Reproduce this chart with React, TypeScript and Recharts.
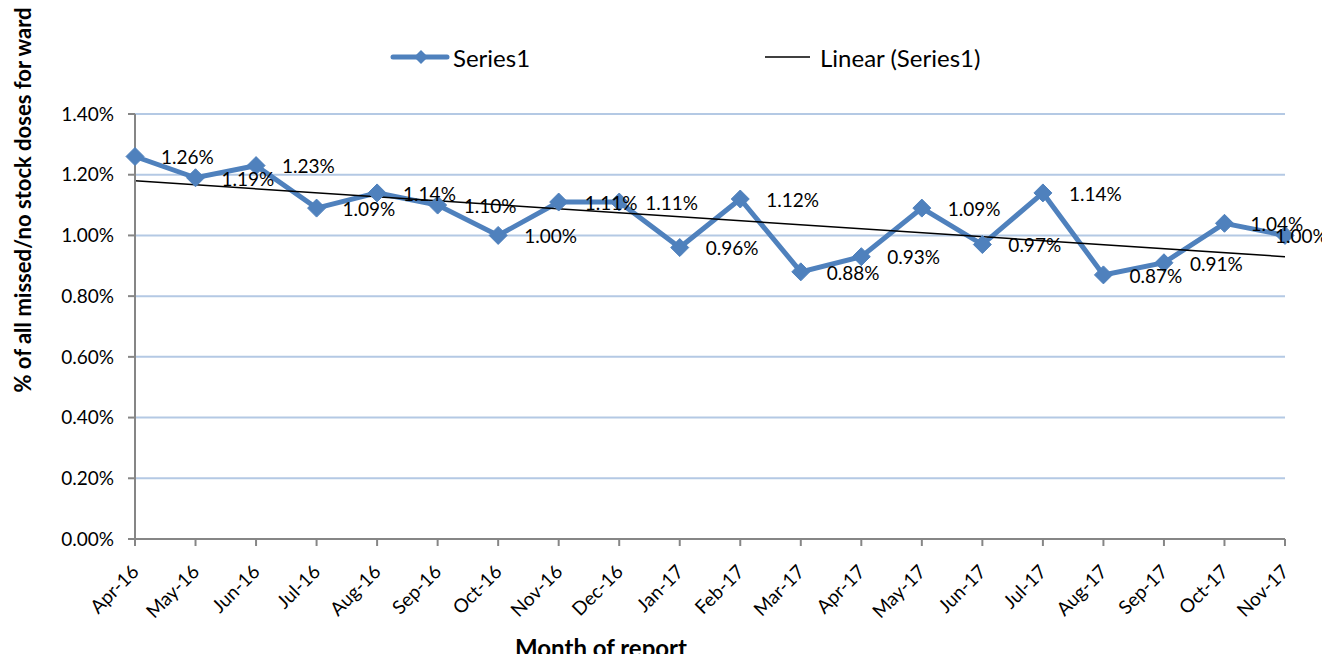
import React from 'react';
import { LineChart, Line, XAxis, YAxis, CartesianGrid, ReferenceLine, LabelList } from 'recharts';

const months = ['Apr-16','May-16','Jun-16','Jul-16','Aug-16','Sep-16','Oct-16','Nov-16','Dec-16','Jan-17','Feb-17','Mar-17','Apr-17','May-17','Jun-17','Jul-17','Aug-17','Sep-17','Oct-17','Nov-17'];
const series1 = [1.26,1.19,1.23,1.09,1.14,1.10,1.00,1.11,1.11,0.96,1.12,0.88,0.93,1.09,0.97,1.14,0.87,0.91,1.04,1.00];
const yTicks = [0,0.2,0.4,0.6,0.8,1.0,1.2,1.4];
const trendStart = 1.18;
const trendEnd = 0.93;

const data = months.map((m, i) => ({ month: m, value: series1[i] }));

const FONT = 'Lato, "Open Sans", sans-serif';
const BLUE = '#4f81bd';
const AXIS = '#868686';
const GRID = '#b4c9e4';
const fmt = (v: number) => `${v.toFixed(2)}%`;

const Diamond = (props: any) => {
  const { cx, cy } = props;
  if (cx == null || cy == null) return null;
  const r = 9;
  return <path d={`M${cx},${cy - r}L${cx + r},${cy}L${cx},${cy + r}L${cx - r},${cy}Z`} fill={BLUE} stroke={BLUE} />;
};

const XTick = (props: any) => {
  const { x, y, payload } = props;
  const ax = x + 5;
  const ay = y + 25;
  return (
    <text x={ax} y={ay} transform={`rotate(-45, ${ax}, ${ay})`} textAnchor="end" fontSize={19} fontFamily={FONT} fill="#000">
      {payload.value}
    </text>
  );
};

const DataLabel = (props: any) => {
  const { x, y, value, index } = props;
  const last = index === series1.length - 1;
  return (
    <text x={last ? x - 10 : x + 26} y={y + 3} dominantBaseline="middle" textAnchor="start" fontSize={19} fontFamily={FONT} fill="#000">
      {fmt(value)}
    </text>
  );
};

export default function App() {
  return (
    <div style={{ position: 'relative', width: 1330, height: 662, margin: -8, fontFamily: FONT, overflow: 'hidden' }}>
      <LineChart width={1330} height={662} data={data} margin={{ top: 114, right: 45, bottom: 0, left: 0 }} style={{ overflow: 'visible' }}>
        <CartesianGrid horizontal vertical={false} stroke={GRID} strokeWidth={2} />
        <XAxis
          dataKey="month"
          stroke={AXIS}
          strokeWidth={2}
          tickSize={7}
          tick={<XTick />}
          height={123}
          interval={0}
        />
        <YAxis
          domain={[0, 1.4]}
          ticks={yTicks}
          tickFormatter={fmt}
          stroke={AXIS}
          strokeWidth={2}
          tickSize={7}
          tickMargin={14}
          width={135}
          tick={{ fontSize: 19, fontFamily: FONT, fill: '#000' }}
          interval={0}
        />
        <Line
          type="linear"
          dataKey="value"
          stroke={BLUE}
          strokeWidth={5}
          dot={<Diamond />}
          isAnimationActive={false}
        >
          <LabelList dataKey="value" content={<DataLabel />} />
        </Line>
        <ReferenceLine
          segment={[{ x: months[0], y: trendStart }, { x: months[months.length - 1], y: trendEnd }]}
          stroke="#000"
          strokeWidth={1.5}
        />
      </LineChart>
      <div style={{ position: 'absolute', left: 390, top: 42, height: 30, display: 'flex', alignItems: 'center' }}>
        <svg width={60} height={30} style={{ display: 'block' }}>
          <line x1={3} y1={15} x2={57} y2={15} stroke={BLUE} strokeWidth={5} strokeLinecap="round" />
          <path d="M31,8L38,15L31,22L24,15Z" fill={BLUE} />
        </svg>
        <span style={{ fontSize: 24, marginLeft: 3 }}>Series1</span>
      </div>
      <div style={{ position: 'absolute', left: 765, top: 42, height: 30, display: 'flex', alignItems: 'center' }}>
        <svg width={46} height={30} style={{ display: 'block' }}>
          <line x1={0} y1={15} x2={45} y2={15} stroke="#000" strokeWidth={1.5} />
        </svg>
        <span style={{ fontSize: 24, marginLeft: 9 }}>Linear (Series1)</span>
      </div>
      <div style={{ position: 'absolute', left: 22, top: 200, width: 0, height: 0 }}>
        <div
          style={{
            position: 'absolute',
            transform: 'translate(-50%, -50%) rotate(-90deg)',
            whiteSpace: 'nowrap',
            fontWeight: 700,
            fontSize: 22,
          }}
        >
          % of all missed/no stock doses for ward
        </div>
      </div>
      <div style={{ position: 'absolute', left: 601, top: 647, transform: 'translate(-50%, -50%)', whiteSpace: 'nowrap', fontWeight: 700, fontSize: 24 }}>
        Month of report
      </div>
    </div>
  );
}
